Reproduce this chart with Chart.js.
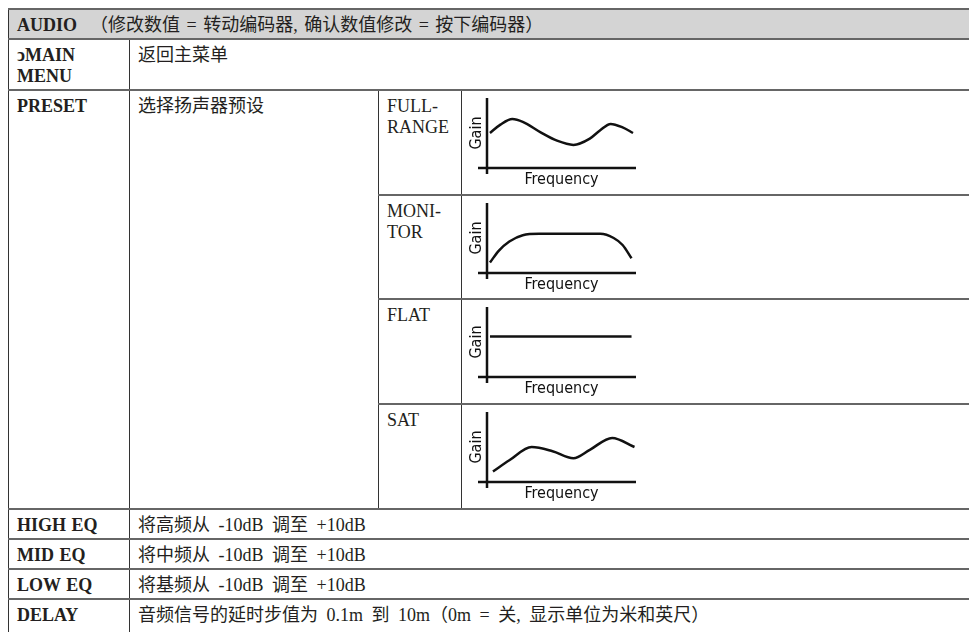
<!DOCTYPE html>
<html>
<head>
<meta charset="utf-8">
<title>AUDIO</title>
<script src="https://cdn.jsdelivr.net/npm/chart.js"></script>
<style>
  body { margin: 0; width: 969px; height: 632px; overflow: hidden; background: #fff; }
  table.spec {
    position: absolute; left: 8px; top: 8px; width: 1000px;
    border-collapse: collapse; table-layout: fixed;
    font-family: "Liberation Serif", "Noto Sans CJK SC", serif;
    font-size: 18px; line-height: 21px; color: #231f20; word-spacing: 4px;
  }
  .spec td {
    border-left: 1px solid #333; border-top: 2px solid #666; border-bottom: 2px solid #666;
    vertical-align: top; padding: 5px 8px 0 8px;
  }
  .spec tr.head td { background: #d4d4d4; word-spacing: 2px; }
  .spec td.label { font-weight: bold; word-spacing: 1px; }
  .spec td.graph { padding: 0; }
  .graph canvas { display: block; }
</style>
</head>
<body>
<table class="spec">
  <colgroup><col style="width:121px"><col style="width:249px"><col style="width:83px"><col></colgroup>
  <tr class="head" style="height:30px"><td colspan="4"><b>AUDIO</b>&nbsp;&nbsp;（修改数值 = 转动编码器, 确认数值修改 = 按下编码器）</td></tr>
  <tr style="height:51px"><td class="label">ↄMAIN<br>MENU</td><td colspan="3">返回主菜单</td></tr>
  <tr style="height:105px"><td class="label" rowspan="4">PRESET</td><td rowspan="4">选择扬声器预设</td><td>FULL-<br>RANGE</td><td class="graph"><canvas id="fullRange" width="190" height="100"></canvas></td></tr>
  <tr style="height:104px"><td>MONI-<br>TOR</td><td class="graph"><canvas id="monitor" width="190" height="100"></canvas></td></tr>
  <tr style="height:105px"><td>FLAT</td><td class="graph"><canvas id="flat" width="190" height="100"></canvas></td></tr>
  <tr style="height:105px"><td>SAT</td><td class="graph"><canvas id="sat" width="190" height="100"></canvas></td></tr>
  <tr style="height:30px"><td class="label">HIGH EQ</td><td colspan="3">将高频从 -10dB 调至 +10dB</td></tr>
  <tr style="height:30px"><td class="label">MID EQ</td><td colspan="3">将中频从 -10dB 调至 +10dB</td></tr>
  <tr style="height:30px"><td class="label">LOW EQ</td><td colspan="3">将基频从 -10dB 调至 +10dB</td></tr>
  <tr style="height:40px"><td class="label">DELAY</td><td colspan="3">音频信号的延时步值为 0.1m 到 10m（0m = 关, 显示单位为米和英尺）</td></tr>
</table>

<script>
// Preset curves (frequency 0-100 across, gain 0-100 up)
const fullRangeX = [2, 9, 17, 24, 36, 47, 58, 69, 76, 83, 91, 98];
const fullRangeY = [50, 62, 70, 66, 51, 39, 33, 42, 54, 63, 58, 50];

const monitorX = [2, 8, 15, 24, 35, 76, 85, 91, 97];
const monitorY = [15, 32, 45, 54, 56, 56, 50, 40, 21];

const flatX = [2, 97];
const flatY = [58, 58];

const satX = [4, 15, 30, 44, 58, 69, 84, 99];
const satY = [15, 31, 50, 44, 34, 46, 63, 50];

const axisFont = { family: '"Liberation Sans Narrow", "DejaVu Sans Condensed", sans-serif', size: 16, lineHeight: 1 };

// axes cross a little past the origin, like the drawing
const crossAxes = {
  id: "crossAxes",
  afterDatasetsDraw(chart) {
    const { ctx, chartArea: a } = chart;
    ctx.save();
    ctx.strokeStyle = "#111";
    ctx.lineWidth = 2.5;
    ctx.beginPath();
    ctx.moveTo(a.left, a.top);
    ctx.lineTo(a.left, a.bottom + 6);
    ctx.moveTo(a.left - 9, a.bottom);
    ctx.lineTo(a.right, a.bottom);
    ctx.stroke();
    ctx.restore();
  },
};

function drawCurve(id, xs, ys) {
  new Chart(document.getElementById(id), {
    type: "line",
    data: {
      datasets: [
        {
          data: xs.map((x, i) => ({ x: x, y: ys[i] })),
          borderColor: "#111",
          borderWidth: 2.5,
          pointRadius: 0,
          cubicInterpolationMode: "monotone",
          fill: false,
        },
      ],
    },
    options: {
      responsive: false,
      animation: false,
      events: [],
      layout: { padding: { left: 4, top: 7, right: 16, bottom: 1 } },
      plugins: { legend: { display: false }, tooltip: { enabled: false } },
      scales: {
        x: {
          type: "linear",
          min: 0,
          max: 100,
          ticks: { display: false },
          grid: { display: false, drawTicks: false },
          border: { display: false },
          title: { display: true, text: "Frequency", color: "#111", font: axisFont, padding: { top: 4, bottom: 2 } },
        },
        y: {
          min: 0,
          max: 100,
          ticks: { display: false },
          grid: { display: false, drawTicks: false },
          border: { display: false },
          title: { display: true, text: "Gain", color: "#111", font: axisFont, padding: { top: 3, bottom: 2 } },
        },
      },
    },
    plugins: [crossAxes],
  });
}

drawCurve("fullRange", fullRangeX, fullRangeY);
drawCurve("monitor", monitorX, monitorY);
drawCurve("flat", flatX, flatY);
drawCurve("sat", satX, satY);
</script>
</body>
</html>
